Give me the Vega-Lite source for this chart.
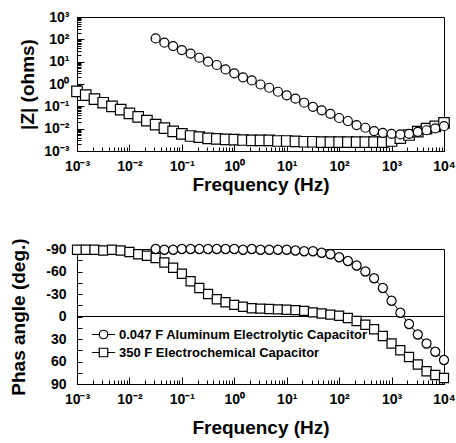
{
  "$schema": "https://vega.github.io/schema/vega-lite/v6.json",
  "padding": {"left": 9, "top": 9, "right": 0, "bottom": 0},
  "bounds": "flush",
  "spacing": 98,
  "config": {
    "font": "Liberation Sans",
    "view": {"stroke": "black", "strokeWidth": 1},
    "axis": {
      "grid": false, "domainColor": "black", "tickColor": "black", "labelColor": "black", "titleColor": "black",
      "labelFont": "Liberation Sans", "labelFontWeight": "bold", "labelFontSize": 14,
      "titleFont": "Liberation Sans", "titleFontWeight": "bold", "titleFontSize": 19,
      "labelOverlap": false, "labelBound": false, "labelFlush": false, "domainWidth": 1, "tickWidth": 1
    },
    "legend": {
      "labelFont": "Liberation Sans", "labelFontWeight": "bold", "labelFontSize": 13, "labelColor": "black", "labelLimit": 400,
      "rowPadding": 3, "labelOffset": 9, "padding": 0
    }
  },
  "datasets": {
    "d": [
      {"s": "350 F Electrochemical Capacitor", "f": 0.001, "z": 0.47, "p": -89},
      {"s": "350 F Electrochemical Capacitor", "f": 0.001468, "z": 0.32, "p": -89},
      {"s": "350 F Electrochemical Capacitor", "f": 0.002154, "z": 0.21, "p": -89},
      {"s": "350 F Electrochemical Capacitor", "f": 0.003162, "z": 0.145, "p": -88},
      {"s": "350 F Electrochemical Capacitor", "f": 0.004642, "z": 0.1, "p": -89},
      {"s": "350 F Electrochemical Capacitor", "f": 0.006813, "z": 0.071, "p": -88},
      {"s": "350 F Electrochemical Capacitor", "f": 0.01, "z": 0.048, "p": -86},
      {"s": "350 F Electrochemical Capacitor", "f": 0.01468, "z": 0.034, "p": -83},
      {"s": "350 F Electrochemical Capacitor", "f": 0.02154, "z": 0.023, "p": -81},
      {"s": "350 F Electrochemical Capacitor", "f": 0.03162, "z": 0.0151, "p": -78},
      {"s": "350 F Electrochemical Capacitor", "f": 0.04642, "z": 0.0105, "p": -72},
      {"s": "350 F Electrochemical Capacitor", "f": 0.06813, "z": 0.0076, "p": -65},
      {"s": "350 F Electrochemical Capacitor", "f": 0.1, "z": 0.0058, "p": -57},
      {"s": "350 F Electrochemical Capacitor", "f": 0.1468, "z": 0.0047, "p": -47},
      {"s": "350 F Electrochemical Capacitor", "f": 0.2154, "z": 0.0042, "p": -38},
      {"s": "350 F Electrochemical Capacitor", "f": 0.3162, "z": 0.0037, "p": -30},
      {"s": "350 F Electrochemical Capacitor", "f": 0.4642, "z": 0.0035, "p": -23},
      {"s": "350 F Electrochemical Capacitor", "f": 0.6813, "z": 0.0033, "p": -19},
      {"s": "350 F Electrochemical Capacitor", "f": 1, "z": 0.0032, "p": -15.5},
      {"s": "350 F Electrochemical Capacitor", "f": 1.468, "z": 0.0031, "p": -13},
      {"s": "350 F Electrochemical Capacitor", "f": 2.154, "z": 0.003, "p": -11},
      {"s": "350 F Electrochemical Capacitor", "f": 3.162, "z": 0.003, "p": -10.5},
      {"s": "350 F Electrochemical Capacitor", "f": 4.642, "z": 0.003, "p": -10},
      {"s": "350 F Electrochemical Capacitor", "f": 6.813, "z": 0.0028, "p": -9.5},
      {"s": "350 F Electrochemical Capacitor", "f": 10, "z": 0.0028, "p": -9},
      {"s": "350 F Electrochemical Capacitor", "f": 14.68, "z": 0.0027, "p": -8.5},
      {"s": "350 F Electrochemical Capacitor", "f": 21.54, "z": 0.0026, "p": -7.5},
      {"s": "350 F Electrochemical Capacitor", "f": 31.62, "z": 0.0026, "p": -5.5},
      {"s": "350 F Electrochemical Capacitor", "f": 46.42, "z": 0.0025, "p": -4},
      {"s": "350 F Electrochemical Capacitor", "f": 68.13, "z": 0.0025, "p": -2.5},
      {"s": "350 F Electrochemical Capacitor", "f": 100, "z": 0.0025, "p": -1},
      {"s": "350 F Electrochemical Capacitor", "f": 146.8, "z": 0.0025, "p": 2},
      {"s": "350 F Electrochemical Capacitor", "f": 215.4, "z": 0.0025, "p": 6},
      {"s": "350 F Electrochemical Capacitor", "f": 316.2, "z": 0.0025, "p": 11},
      {"s": "350 F Electrochemical Capacitor", "f": 464.2, "z": 0.0025, "p": 17},
      {"s": "350 F Electrochemical Capacitor", "f": 681.3, "z": 0.0025, "p": 26},
      {"s": "350 F Electrochemical Capacitor", "f": 1000, "z": 0.0028, "p": 36},
      {"s": "350 F Electrochemical Capacitor", "f": 1468, "z": 0.0038, "p": 45},
      {"s": "350 F Electrochemical Capacitor", "f": 2154, "z": 0.0052, "p": 54},
      {"s": "350 F Electrochemical Capacitor", "f": 3162, "z": 0.0074, "p": 64},
      {"s": "350 F Electrochemical Capacitor", "f": 4642, "z": 0.01, "p": 73},
      {"s": "350 F Electrochemical Capacitor", "f": 6813, "z": 0.0126, "p": 78},
      {"s": "350 F Electrochemical Capacitor", "f": 10000, "z": 0.0182, "p": 82},
      {"s": "0.047 F Aluminum Electrolytic Capacitor", "f": 0.03162, "z": 110, "p": -90},
      {"s": "0.047 F Aluminum Electrolytic Capacitor", "f": 0.04642, "z": 71, "p": -89},
      {"s": "0.047 F Aluminum Electrolytic Capacitor", "f": 0.06813, "z": 50, "p": -89},
      {"s": "0.047 F Aluminum Electrolytic Capacitor", "f": 0.1, "z": 33, "p": -90},
      {"s": "0.047 F Aluminum Electrolytic Capacitor", "f": 0.1468, "z": 23, "p": -90},
      {"s": "0.047 F Aluminum Electrolytic Capacitor", "f": 0.2154, "z": 15, "p": -90},
      {"s": "0.047 F Aluminum Electrolytic Capacitor", "f": 0.3162, "z": 10, "p": -90},
      {"s": "0.047 F Aluminum Electrolytic Capacitor", "f": 0.4642, "z": 7.1, "p": -90},
      {"s": "0.047 F Aluminum Electrolytic Capacitor", "f": 0.6813, "z": 4.5, "p": -90},
      {"s": "0.047 F Aluminum Electrolytic Capacitor", "f": 1, "z": 3.0, "p": -90},
      {"s": "0.047 F Aluminum Electrolytic Capacitor", "f": 1.468, "z": 2.0, "p": -89},
      {"s": "0.047 F Aluminum Electrolytic Capacitor", "f": 2.154, "z": 1.45, "p": -90},
      {"s": "0.047 F Aluminum Electrolytic Capacitor", "f": 3.162, "z": 0.95, "p": -89},
      {"s": "0.047 F Aluminum Electrolytic Capacitor", "f": 4.642, "z": 0.68, "p": -89},
      {"s": "0.047 F Aluminum Electrolytic Capacitor", "f": 6.813, "z": 0.45, "p": -89},
      {"s": "0.047 F Aluminum Electrolytic Capacitor", "f": 10, "z": 0.31, "p": -89},
      {"s": "0.047 F Aluminum Electrolytic Capacitor", "f": 14.68, "z": 0.22, "p": -88},
      {"s": "0.047 F Aluminum Electrolytic Capacitor", "f": 21.54, "z": 0.145, "p": -87},
      {"s": "0.047 F Aluminum Electrolytic Capacitor", "f": 31.62, "z": 0.095, "p": -87},
      {"s": "0.047 F Aluminum Electrolytic Capacitor", "f": 46.42, "z": 0.066, "p": -85},
      {"s": "0.047 F Aluminum Electrolytic Capacitor", "f": 68.13, "z": 0.046, "p": -83},
      {"s": "0.047 F Aluminum Electrolytic Capacitor", "f": 100, "z": 0.03, "p": -79},
      {"s": "0.047 F Aluminum Electrolytic Capacitor", "f": 146.8, "z": 0.022, "p": -74},
      {"s": "0.047 F Aluminum Electrolytic Capacitor", "f": 215.4, "z": 0.0145, "p": -68},
      {"s": "0.047 F Aluminum Electrolytic Capacitor", "f": 316.2, "z": 0.011, "p": -60},
      {"s": "0.047 F Aluminum Electrolytic Capacitor", "f": 464.2, "z": 0.0078, "p": -51},
      {"s": "0.047 F Aluminum Electrolytic Capacitor", "f": 681.3, "z": 0.0065, "p": -38},
      {"s": "0.047 F Aluminum Electrolytic Capacitor", "f": 1000, "z": 0.0059, "p": -21},
      {"s": "0.047 F Aluminum Electrolytic Capacitor", "f": 1468, "z": 0.0055, "p": -5},
      {"s": "0.047 F Aluminum Electrolytic Capacitor", "f": 2154, "z": 0.0059, "p": 10},
      {"s": "0.047 F Aluminum Electrolytic Capacitor", "f": 3162, "z": 0.0072, "p": 24},
      {"s": "0.047 F Aluminum Electrolytic Capacitor", "f": 4642, "z": 0.0085, "p": 36},
      {"s": "0.047 F Aluminum Electrolytic Capacitor", "f": 6813, "z": 0.0102, "p": 47},
      {"s": "0.047 F Aluminum Electrolytic Capacitor", "f": 10000, "z": 0.0129, "p": 58}
    ]
  },
  "vconcat": [
    {
      "width": 367, "height": 134,
      "data": {"name": "d"},
      "resolve": {"axis": {"x": "independent", "y": "independent"}},
      "layer": [
        {"mark": {"type": "line", "color": "black", "strokeWidth": 1},
          "encoding": {
            "x": {"field": "f", "type": "quantitative",
              "scale": {"type": "log", "domain": [0.001, 10000], "nice": false},
              "axis": {"orient": "bottom", "title": "Frequency (Hz)", "titlePadding": 2, "labelPadding": 15, "tickSize": -7, "labelOverlap": false,
                "values": [0.001, 0.01, 0.1, 1, 10, 100, 1000, 10000],
                "labelExpr": "'10' + ['⁻³','⁻²','⁻¹','⁰','¹','²','³','⁴'][round(log(datum.value)/LN10)+3]"}},
            "y": {"field": "z", "type": "quantitative",
              "scale": {"type": "log", "domain": [0.001, 1000], "nice": false},
              "axis": {"orient": "left", "title": "|Z| (ohms)", "titlePadding": 6, "labelPadding": 15, "tickSize": -7, "labelOverlap": false,
                "values": [0.001, 0.01, 0.1, 1, 10, 100, 1000],
                "labelExpr": "'10' + ['⁻³','⁻²','⁻¹','⁰','¹','²','³','⁴'][round(log(datum.value)/LN10)+3]"}},
            "detail": {"field": "s"}
          }
        },
        {"mark": {"type": "point", "fill": "white", "stroke": "black", "strokeWidth": 1.2, "opacity": 1},
          "encoding": {
            "x": {"field": "f", "type": "quantitative",
              "scale": {"type": "log", "domain": [0.001, 10000], "nice": false},
              "axis": {"orient": "bottom", "title": null, "labels": false, "domain": false, "tickSize": -4,
                "values": [0.002,0.003,0.004,0.005,0.006,0.007,0.008,0.009,0.02,0.03,0.04,0.05,0.06,0.07,0.08,0.09,0.2,0.3,0.4,0.5,0.6,0.7,0.8,0.9,2,3,4,5,6,7,8,9,20,30,40,50,60,70,80,90,200,300,400,500,600,700,800,900,2000,3000,4000,5000,6000,7000,8000,9000]}},
            "y": {"field": "z", "type": "quantitative",
              "scale": {"type": "log", "domain": [0.001, 1000], "nice": false},
              "axis": {"orient": "left", "title": null, "labels": false, "domain": false, "tickSize": -4,
                "values": [0.002,0.003,0.004,0.005,0.006,0.007,0.008,0.009,0.02,0.03,0.04,0.05,0.06,0.07,0.08,0.09,0.2,0.3,0.4,0.5,0.6,0.7,0.8,0.9,2,3,4,5,6,7,8,9,20,30,40,50,60,70,80,90,200,300,400,500,600,700,800,900]}},
            "shape": {"field": "s", "type": "nominal", "legend": null,
              "scale": {"domain": ["0.047 F Aluminum Electrolytic Capacitor", "350 F Electrochemical Capacitor"], "range": ["circle", "square"]}},
            "size": {"field": "s", "type": "nominal", "legend": null,
              "scale": {"domain": ["0.047 F Aluminum Electrolytic Capacitor", "350 F Electrochemical Capacitor"], "range": [81, 110]}}
          }
        }
      ]
    },
    {
      "width": 367, "height": 135,
      "data": {"name": "d"},
      "resolve": {"scale": {"shape": "independent"}, "legend": {"shape": "independent"}, "axis": {"x": "independent", "y": "independent"}},
      "layer": [
        {"mark": {"type": "rule", "color": "black", "strokeWidth": 1},
          "encoding": {"y": {"datum": 0, "type": "quantitative", "scale": {"domain": [-90, 90], "reverse": true, "nice": false}, "axis": null}}},
        {"mark": {"type": "line", "color": "black", "strokeWidth": 1},
          "encoding": {
            "x": {"field": "f", "type": "quantitative",
              "scale": {"type": "log", "domain": [0.001, 10000], "nice": false},
              "axis": {"orient": "bottom", "title": "Frequency (Hz)", "titlePadding": 12, "labelPadding": 15, "tickSize": -7, "labelOverlap": false,
                "values": [0.001, 0.01, 0.1, 1, 10, 100, 1000, 10000],
                "labelExpr": "'10' + ['⁻³','⁻²','⁻¹','⁰','¹','²','³','⁴'][round(log(datum.value)/LN10)+3]"}},
            "y": {"field": "p", "type": "quantitative",
              "scale": {"domain": [-90, 90], "reverse": true, "nice": false},
              "axis": {"orient": "left", "title": "Phas angle (deg.)", "titlePadding": 17, "labelPadding": 16, "tickSize": -5, "labelOverlap": false,
                "values": [-90,-75,-60,-45,-30,-15,0,15,30,45,60,75,90],
                "labelExpr": "datum.value % 30 == 0 ? '' + datum.value : ''"}},
            "detail": {"field": "s"}
          }
        },
        {"mark": {"type": "point", "fill": "white", "stroke": "black", "strokeWidth": 1.2, "opacity": 1, "size": 82},
          "encoding": {
            "x": {"field": "f", "type": "quantitative",
              "scale": {"type": "log", "domain": [0.001, 10000], "nice": false},
              "axis": {"orient": "bottom", "title": null, "labels": false, "domain": false, "tickSize": -4,
                "values": [0.002,0.003,0.004,0.005,0.006,0.007,0.008,0.009,0.02,0.03,0.04,0.05,0.06,0.07,0.08,0.09,0.2,0.3,0.4,0.5,0.6,0.7,0.8,0.9,2,3,4,5,6,7,8,9,20,30,40,50,60,70,80,90,200,300,400,500,600,700,800,900,2000,3000,4000,5000,6000,7000,8000,9000]}},
            "y": {"field": "p", "type": "quantitative",
              "scale": {"domain": [-90, 90], "reverse": true, "nice": false}, "axis": null},
            "shape": {"field": "s", "type": "nominal", "legend": null,
              "scale": {"domain": ["0.047 F Aluminum Electrolytic Capacitor", "350 F Electrochemical Capacitor"], "range": ["circle", "square"]}}
          }
        },
        {
          "mark": {"type": "point", "filled": false, "color": "black", "strokeWidth": 1.2, "opacity": 0, "size": 72},
          "encoding": {
            "x": {"field": "f", "type": "quantitative", "scale": {"type": "log", "domain": [0.001, 10000], "nice": false}, "axis": null},
            "y": {"field": "p", "type": "quantitative", "scale": {"domain": [-90, 90], "reverse": true, "nice": false}, "axis": null},
            "shape": {"field": "s", "type": "nominal",
              "scale": {"domain": ["0.047 F Aluminum Electrolytic Capacitor", "350 F Electrochemical Capacitor"],
                "range": ["M-2.75,0H-1M1,0H2.75M-1,0A1,1,0,1,0,1,0A1,1,0,1,0,-1,0", "M-2.75,0H-1M1,0H2.75M-1,-1H1V1H-1Z"]},
              "legend": {"title": null, "orient": "none", "legendX": 20, "legendY": 79, "symbolSize": 72,
                "symbolStrokeColor": "black", "symbolFillColor": "white", "symbolStrokeWidth": 1.2, "symbolOpacity": 1}}
          }
        }
      ]
    }
  ]
}
